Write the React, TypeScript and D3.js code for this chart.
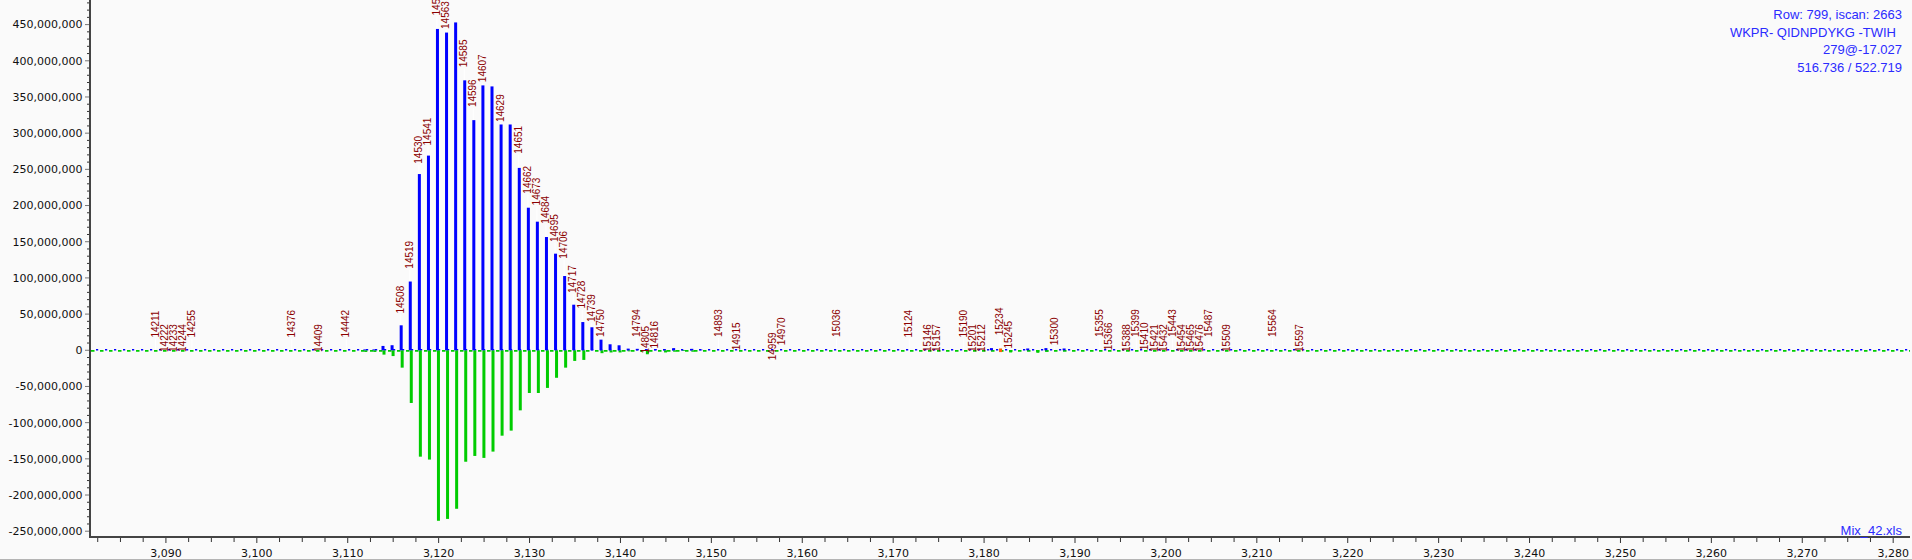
import React from "react";
import * as d3 from "d3";

// ---- data ----
const peakMz = [
  3111.88, 3112.88, 3113.88, 3114.88, 3115.88, 3116.88, 3117.88, 3118.88, 3119.87, 3120.87,
  3121.87, 3122.87, 3123.87, 3124.87, 3125.87, 3126.87, 3127.87, 3128.87, 3129.87, 3130.86,
  3131.86, 3132.86, 3133.86, 3134.86, 3135.86, 3136.86, 3137.86, 3138.86, 3139.85, 3140.85,
  3141.85, 3142.85, 3143.85, 3144.85, 3145.85, 3146.85, 3147.85, 3148.85,
  3180.81, 3182.81, 3184.80, 3185.80, 3186.80, 3188.80,
];
// blue (positive) intensities, millions
const blueIntensity = [
  1.2, 1.2, 6, 7, 34.5, 95, 243.5, 269, 444, 439,
  453, 373, 318, 366, 364.6, 312, 312, 252, 197, 177.7,
  156.5, 133.5, 102.6, 63, 39, 31.8, 14.7, 8.3, 6.9, 2.3,
  2, 1.5, 1.5, 1.5, 3, 0.5, 2, 1,
  3, 0, 2.5, 0, 3, 2.5,
];
// green (negative) intensities, millions
const greenIntensity = [
  -2.3, -2.3, -6, -8, -24, -72.8, -147, -151, -235.6, -233,
  -219, -154, -146, -148.7, -140, -118, -111, -83, -59, -59,
  -52, -38, -24, -14.7, -13.3, 0, -4, -3, -3, -1.5,
  0, -5.5, 0, -3, -2, -1, -2, 0,
  0, -3, 0, -3.5, -2, 0,
];
// single orange-red matched point near zero
const orangeMz = [3181.81];
const orangeIntensity = [2.5];

const labelText = [
  "14211", "14222", "14233", "14244", "14255", "14376", "14409", "14442", "14508", "14519",
  "14530", "14541", "14552", "14563", "14585", "14596", "14607", "14629", "14651", "14662",
  "14673", "14684", "14695", "14706", "14717", "14728", "14739", "14750", "14794", "14805",
  "14816", "14893", "14915", "14959", "14970", "15036", "15124", "15146", "15157", "15190",
  "15201", "15212", "15234", "15245", "15300", "15355", "15366", "15388", "15399", "15410",
  "15421", "15432", "15443", "15454", "15465", "15476", "15487", "15509", "15564", "15597",
];
const labelMz = [
  3088.91, 3089.91, 3090.91, 3091.91, 3092.91, 3103.89, 3106.89, 3109.89, 3115.88, 3116.88,
  3117.88, 3118.88, 3119.87, 3120.87, 3122.87, 3123.87, 3124.87, 3126.87, 3128.87, 3129.87,
  3130.86, 3131.86, 3132.86, 3133.86, 3134.86, 3135.86, 3136.86, 3137.86, 3141.85, 3142.85,
  3143.85, 3150.84, 3152.84, 3156.84, 3157.84, 3163.83, 3171.82, 3173.82, 3174.82, 3177.81,
  3178.81, 3179.81, 3181.81, 3182.81, 3187.80, 3192.80, 3193.79, 3195.79, 3196.79, 3197.79,
  3198.79, 3199.79, 3200.79, 3201.79, 3202.78, 3203.78, 3204.78, 3206.78, 3211.77, 3214.77,
];
// value (millions) at which each label starts (its lower end)
const labelBase = [
  17.5, -2.3, -2.3, -2.3, 17.5, 17.5, -2.3, 17.5, 50.7, 112.8,
  257.8, 283, 462.6, 444, 391, 336, 370.5, 315.3, 271.6, 216.4,
  200.2, 175, 149.6, 126.6, 79.1, 57.6, 39.1, 18.4, 18.4, -4.6,
  2.3, 18.4, 0, -13.8, 6.9, 18.4, 17.5, -2.3, -2.3, 17.5,
  -2.3, -2.3, 20.7, 2.3, 6.9, 18.4, 0, -2.3, 18.4, 0,
  -2.3, -2.3, 18.4, -2.3, -2.3, -2.3, 18.4, -2.3, 18.4, -2.3,
];

const xTickValues = [3090, 3100, 3110, 3120, 3130, 3140, 3150, 3160, 3170, 3180, 3190, 3200, 3210, 3220, 3230, 3240, 3250, 3260, 3270, 3280];
const yTickValues = [-250, -200, -150, -100, -50, 0, 50, 100, 150, 200, 250, 300, 350, 400, 450];

const infoLines = ["Row: 799, iscan: 2663", "WKPR- QIDNPDYKG -TWIH", "279@-17.027", "516.736 / 522.719"];
const fileName = "Mix_42.xls";

const W = 1912;
const H = 560;

export default function App() {
  const x = d3.scaleLinear().domain([3081.65, 3281.85]).range([90, 1910]);
  const y = d3.scaleLinear().domain([-258, 484]).range([537, 0]);
  const y0 = y(0);
  const fmt = d3.format(",");
  const fmtY = (v: number) => fmt(v * 1e6).replace("\u2212", "-");

  const minorX = d3.range(3082.5, 3281, 2.5).filter((v) => Math.abs(v / 10 - Math.round(v / 10)) > 1e-6);
  const minorY = d3.range(-250, 481, 10).filter((v) => v % 50 !== 0);

  const axisFont = "'DejaVu Sans', Verdana, sans-serif";
  const textFont = "'Liberation Sans', Arial, sans-serif";

  return (
    <div style={{ position: "absolute", left: 0, top: 0 }}>
      <svg width={W} height={H} style={{ display: "block", background: "#fafafa" }}>
        <rect x={0} y={0} width={W} height={H} fill="#fafafa" />
        {/* label leader lines */}
        {labelMz.map((m, i) => {
          const lx = x(m) - 0.5;
          const bottom = y(labelBase[i]);
          return <line key={"ll" + i} x1={lx} x2={lx} y1={bottom + 1} y2={y0} stroke="#ffffff" strokeWidth={1} />;
        })}
        {/* zero dashed lines */}
        <line x1={91} x2={1910} y1={y0 + 0.6} y2={y0 + 0.6} stroke="#00cc00" strokeWidth={1.6} strokeDasharray="3.5 5.5" />
        <line x1={91} x2={1910} y1={y0 - 0.6} y2={y0 - 0.6} stroke="#0000ff" strokeWidth={1.4} strokeDasharray="2.2 6.8" strokeDashoffset={-5} />
        {/* green bars */}
        {peakMz.map((m, i) =>
          greenIntensity[i] < 0 ? (
            <rect key={"g" + i} x={x(m) - 0.5} y={y0} width={3} height={y(greenIntensity[i]) - y0} fill="#00cc00" />
          ) : null
        )}
        {/* blue bars */}
        {peakMz.map((m, i) =>
          blueIntensity[i] > 0 ? (
            <rect key={"b" + i} x={x(m) - 1.5} y={y(blueIntensity[i])} width={3} height={y0 - y(blueIntensity[i])} fill="#0000ff" />
          ) : null
        )}
        {orangeMz.map((m, i) => (
          <rect key={"o" + i} x={x(m) - 1.5} y={y(orangeIntensity[i])} width={3} height={2 * (y0 - y(orangeIntensity[i]))} fill="#ff6000" />
        ))}
        {/* labels */}
        {labelMz.map((m, i) => {
          const lx = x(m) - 1.5;
          const ly = y(labelBase[i]);
          return (
            <text
              key={"lt" + i}
              transform={`translate(${lx},${ly}) rotate(-90) scale(0.87,1)`}
              dy="0.36em"
              fontFamily={textFont}
              fontSize={11.5}
              fill="#8b0000"
            >
              {labelText[i]}
            </text>
          );
        })}
        {/* y axis */}
        <line x1={90} x2={90} y1={0} y2={537} stroke="#444" strokeWidth={2} />
        {yTickValues.map((v) => (
          <g key={"yt" + v}>
            <line x1={85} x2={89} y1={y(v)} y2={y(v)} stroke="#777" strokeWidth={1} />
            <text x={82.5} y={y(v)} dy="0.35em" textAnchor="end" fontFamily={axisFont} fontSize={11} fill="#111">
              {fmtY(v)}
            </text>
          </g>
        ))}
        {minorY.map((v) => (
          <line key={"ym" + v} x1={87} x2={89} y1={y(v)} y2={y(v)} stroke="#333" strokeWidth={1} />
        ))}
        {/* x axis */}
        <line x1={89} x2={1910} y1={537} y2={537} stroke="#444" strokeWidth={2} />
        {xTickValues.map((v) => (
          <g key={"xt" + v}>
            <line x1={x(v)} x2={x(v)} y1={538} y2={543} stroke="#333" strokeWidth={1} />
            <text x={x(v)} y={557} textAnchor="middle" fontFamily={axisFont} fontSize={11} fill="#111">
              {fmt(v)}
            </text>
          </g>
        ))}
        {minorX.map((v) => (
          <line key={"xm" + v} x1={x(v)} x2={x(v)} y1={538} y2={542} stroke="#333" strokeWidth={1} />
        ))}
        <line x1={0} x2={W} y1={559.5} y2={559.5} stroke="#b4b4b4" strokeWidth={1} />
        {/* info text */}
        {infoLines.map((t, i) => (
          <text key={"info" + i} x={i === 1 ? 1896 : 1902} y={19 + i * 17.7} textAnchor="end" fontFamily={textFont} fontSize={13} fill="#2b2bff">
            {t}
          </text>
        ))}
        <text x={1902} y={535} textAnchor="end" fontFamily={textFont} fontSize={13} fill="#2b2bff">
          {fileName}
        </text>
      </svg>
    </div>
  );
}
